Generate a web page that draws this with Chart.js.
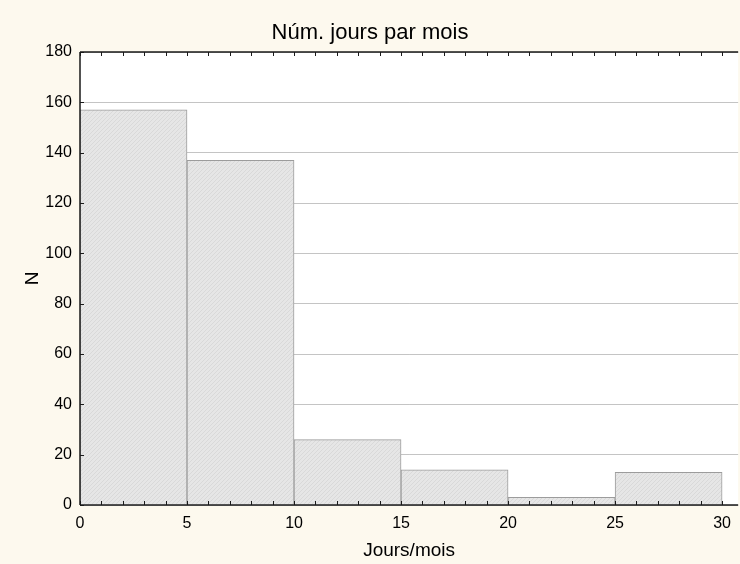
<!DOCTYPE html>
<html>
<head>
<meta charset="utf-8">
<script src="https://cdn.jsdelivr.net/npm/chart.js@4.4.0/dist/chart.umd.min.js"></script>
<style>
  body { margin: 0; background: #fdf9ee; }
  #wrap { width: 740px; height: 564px; }
</style>
</head>
<body>
<div id="wrap"><canvas id="chart" width="740" height="564"></canvas></div>
<script>
// histogram data
const binStarts = [0, 5, 10, 15, 20, 25];
const binWidth = 5;
const counts = [157, 137, 26, 14, 3, 13];
const xTicks = [0, 5, 10, 15, 20, 25, 30];
const xMinorTicks = [];
for (let i = 0; i <= 30; i++) xMinorTicks.push(i);
const yTicks = [0, 20, 40, 60, 80, 100, 120, 140, 160, 180];

const FONT = "'Liberation Sans', Arial, sans-serif";

// light gray fill with a faint diagonal texture
function makeHatch() {
    const c = document.createElement('canvas');
    c.width = 4; c.height = 4;
    const g = c.getContext('2d');
    g.fillStyle = '#e6e6e6';
    g.fillRect(0, 0, 4, 4);
    g.fillStyle = '#d9d9d9';
    for (let i = 0; i < 4; i++) g.fillRect(3 - i, i, 1, 1);
    return g.createPattern(c, 'repeat');
}

const ctx = document.getElementById('chart').getContext('2d');

const frame = {
    id: 'frame',
    beforeDraw(chart) {
        const { ctx, chartArea: a } = chart;
        ctx.save();
        ctx.fillStyle = '#fdf9ee';
        ctx.fillRect(0, 0, chart.width, chart.height);
        ctx.fillStyle = '#ffffff';
        ctx.fillRect(a.left, a.top, a.right - a.left, a.bottom - a.top);
        ctx.restore();
    },
    afterDatasetsDraw(chart) {
        const { ctx, chartArea: a, scales: { x, y } } = chart;
        ctx.save();
        ctx.strokeStyle = '#1a1a1a';
        ctx.lineWidth = 1.5;
        ctx.beginPath();
        ctx.moveTo(a.left, a.top); ctx.lineTo(a.right, a.top);
        ctx.moveTo(a.left, a.top); ctx.lineTo(a.left, a.bottom);
        ctx.moveTo(a.left, a.bottom); ctx.lineTo(a.right, a.bottom);
        ctx.stroke();
        ctx.lineWidth = 1;
        ctx.beginPath();
        xMinorTicks.forEach(v => {
            const px = Math.round(x.getPixelForValue(v)) + 0.5;
            ctx.moveTo(px, a.bottom); ctx.lineTo(px, a.bottom - 4);
            ctx.moveTo(px, a.top); ctx.lineTo(px, a.top + 4);
        });
        yTicks.forEach(v => {
            const py = Math.round(y.getPixelForValue(v)) + 0.5;
            ctx.moveTo(a.left, py); ctx.lineTo(a.left + 4, py);
        });
        ctx.stroke();
        ctx.restore();
    }
};

new Chart(ctx, {
    type: 'bar',
    data: {
        datasets: [{
            data: binStarts.map((s, i) => ({ x: s + binWidth / 2, y: counts[i] })),
            backgroundColor: makeHatch(),
            borderColor: '#9c9c9c',
            borderWidth: 1,
            borderSkipped: 'bottom',
            barPercentage: 1,
            categoryPercentage: 1
        }]
    },
    options: {
        responsive: false,
        animation: false,
        layout: { padding: 0 },
        plugins: {
            legend: { display: false },
            tooltip: { enabled: false },
            title: {
                display: true,
                text: 'Núm. jours par mois',
                color: '#000',
                font: { family: FONT, size: 22, weight: 'normal' },
                padding: { top: 20, bottom: 5.6 }
            }
        },
        scales: {
            x: {
                type: 'linear',
                offset: false,
                min: 0,
                max: 30.75,
                grid: { display: false, drawTicks: false },
                border: { display: false },
                afterBuildTicks: s => { s.ticks = xTicks.map(v => ({ value: v })); },
                afterFit: s => { s.height = 59; },
                ticks: { color: '#000', font: { family: FONT, size: 16 }, padding: 9, maxRotation: 0 },
                title: {
                    display: true,
                    text: 'Jours/mois',
                    color: '#000',
                    font: { family: FONT, size: 19 },
                    padding: { bottom: 1.5 }
                }
            },
            y: {
                min: 0,
                max: 180,
                grid: { color: '#c4c4c4', lineWidth: 1, drawTicks: false },
                border: { display: false },
                afterBuildTicks: s => { s.ticks = yTicks.map(v => ({ value: v })); },
                afterFit: s => { s.width = 80; },
                ticks: { color: '#000', font: { family: FONT, size: 16 }, padding: 8 },
                title: {
                    display: true,
                    text: 'N',
                    color: '#000',
                    font: { family: FONT, size: 19 },
                    padding: { top: 21.5 }
                }
            }
        }
    },
    plugins: [frame]
});
</script>
</body>
</html>
